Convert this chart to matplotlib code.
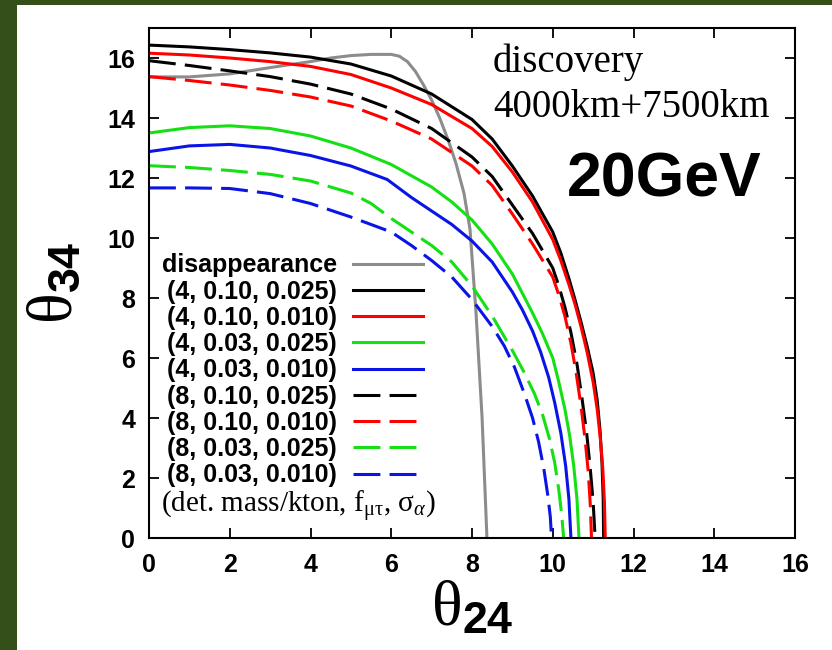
import matplotlib
matplotlib.use("Agg")
import matplotlib.pyplot as plt
from matplotlib.patches import Rectangle

plt.rcParams['mathtext.fontset'] = 'custom'
plt.rcParams['mathtext.rm'] = 'Liberation Serif'
plt.rcParams['mathtext.it'] = 'Liberation Serif:italic'
plt.rcParams['mathtext.bf'] = 'Liberation Sans:bold'

# theta_24 / theta_34 contours, 20 GeV, 4000km+7500km
dis_x = [0, 1, 2, 3, 4, 4.5, 5, 5.5, 6, 6.2, 6.4, 6.6, 6.8, 7.0, 7.2, 7.4, 7.6, 7.8, 7.95, 8.1, 8.25, 8.37]
dis_y = [15.37, 15.37, 15.47, 15.68, 15.88, 16.0, 16.08, 16.12, 16.12, 16.06, 15.88, 15.55, 15.1, 14.6, 14.0, 13.3, 12.5, 11.5, 10.3, 7.5, 4.0, 0]

k4_x = [0, 1, 2, 3, 4, 5, 6, 7, 8, 8.5, 9, 9.5, 10, 10.2, 10.4, 10.55, 10.7, 10.85, 11.0, 11.1, 11.17, 11.22, 11.25, 11.26]
k4_y = [16.43, 16.37, 16.28, 16.17, 16.03, 15.8, 15.4, 14.8, 13.95, 13.3, 12.4, 11.4, 10.2, 9.5, 8.65, 7.95, 7.2, 6.4, 5.5, 4.6, 3.6, 2.5, 1.3, 0]

r4_x = [0, 1, 2, 3, 4, 5, 6, 7, 8, 8.5, 9, 9.5, 10, 10.2, 10.4, 10.55, 10.7, 10.85, 11.0, 11.1, 11.18, 11.24, 11.28, 11.3]
r4_y = [16.16, 16.1, 16.0, 15.88, 15.72, 15.45, 15.0, 14.45, 13.65, 13.05, 12.2, 11.2, 9.95, 9.25, 8.45, 7.8, 7.05, 6.2, 5.2, 4.3, 3.3, 2.3, 1.2, 0]

g4_x = [0, 1, 2, 3, 4, 5, 6, 7, 7.5, 8, 8.5, 9, 9.5, 9.75, 10, 10.15, 10.3, 10.42, 10.52, 10.6, 10.65]
g4_y = [13.5, 13.68, 13.74, 13.65, 13.4, 13.0, 12.45, 11.7, 11.2, 10.6, 9.8, 8.8, 7.5, 6.8, 6.0, 5.2, 4.3, 3.4, 2.4, 1.3, 0]

b4_x = [0, 1, 2, 3, 4, 5, 5.9, 6.5, 7, 7.5, 8, 8.5, 9, 9.25, 9.5, 9.7, 9.9, 10.05, 10.2, 10.32, 10.4, 10.45]
b4_y = [12.88, 13.07, 13.12, 13.0, 12.75, 12.4, 11.95, 11.35, 10.9, 10.45, 9.9, 9.2, 8.2, 7.6, 6.9, 6.2, 5.35, 4.5, 3.5, 2.4, 1.3, 0]

k8_x = [0, 1, 2, 3, 4, 5, 6, 7, 8, 8.5, 9, 9.5, 10, 10.15, 10.3, 10.45, 10.6, 10.72, 10.84, 10.93, 11.0, 11.05]
k8_y = [15.91, 15.75, 15.57, 15.38, 15.13, 14.8, 14.3, 13.65, 12.7, 12.05, 11.1, 10.15, 9.0, 8.4, 7.7, 6.85, 5.8, 4.7, 3.5, 2.3, 1.2, 0]

r8_x = [0, 1, 2, 3, 4, 5, 6, 7, 8, 8.5, 9, 9.5, 10, 10.15, 10.3, 10.45, 10.58, 10.7, 10.8, 10.88, 10.93, 10.96]
r8_y = [15.38, 15.25, 15.1, 14.92, 14.7, 14.4, 13.9, 13.3, 12.4, 11.75, 10.8, 9.8, 8.7, 8.1, 7.4, 6.5, 5.5, 4.4, 3.3, 2.2, 1.1, 0]

g8_x = [0, 1, 2, 3, 4, 5, 5.5, 6, 6.5, 7, 7.5, 8, 8.5, 9, 9.3, 9.55, 9.75, 9.92, 10.05, 10.15, 10.22, 10.27]
g8_y = [12.41, 12.35, 12.25, 12.12, 11.9, 11.5, 11.15, 10.65, 10.2, 9.75, 9.2, 8.4, 7.4, 6.25, 5.5, 4.8, 4.1, 3.3, 2.5, 1.6, 0.8, 0]

b8_x = [0, 1, 2, 3, 4, 5, 5.5, 6, 6.5, 7, 7.5, 8, 8.5, 8.8, 9.05, 9.3, 9.5, 9.65, 9.78, 9.88, 9.94, 9.97]
b8_y = [11.67, 11.67, 11.65, 11.48, 11.15, 10.7, 10.45, 10.2, 9.75, 9.25, 8.7, 7.95, 7.05, 6.4, 5.7, 4.8, 4.0, 3.2, 2.3, 1.4, 0.7, 0]

labels = ['disappearance',
          '(4, 0.10, 0.025)', '(4, 0.10, 0.010)', '(4, 0.03, 0.025)', '(4, 0.03, 0.010)',
          '(8, 0.10, 0.025)', '(8, 0.10, 0.010)', '(8, 0.03, 0.025)', '(8, 0.03, 0.010)']
ticks = [0, 2, 4, 6, 8, 10, 12, 14, 16]

GRAY = '#8c8c8c'
RED = '#ff0000'
GREEN = '#14e014'
BLUE = '#0a14e6'
dash = (0, (8.8, 3.0))
lw = 2.2

fig = plt.figure(figsize=(8.32, 6.5), dpi=100)
fig.patch.set_facecolor('#344f17')
fig.patches.append(Rectangle((17 / 832, 0), 1, 645 / 650, transform=fig.transFigure,
                             facecolor='white', edgecolor='none', zorder=-1))

ax = fig.add_axes([149 / 832, 112 / 650, 646 / 832, 510 / 650])

series = [
    (dis_x, dis_y, GRAY, '-'),
    (k4_x, k4_y, 'black', '-'),
    (r4_x, r4_y, RED, '-'),
    (g4_x, g4_y, GREEN, '-'),
    (b4_x, b4_y, BLUE, '-'),
    (k8_x, k8_y, 'black', dash),
    (r8_x, r8_y, RED, dash),
    (g8_x, g8_y, GREEN, dash),
    (b8_x, b8_y, BLUE, dash),
]
handles = []
for (xs, ys, c, ls), lab in zip(series, labels):
    h, = ax.plot(xs, ys, color=c, linestyle=ls, linewidth=lw, label=lab,
                 solid_joinstyle='round')
    handles.append(h)

ax.set_xlim(0, 16)
ax.set_ylim(0, 17)
ax.set_xticks(ticks)
ax.set_yticks(ticks)
ax.tick_params(axis='x', pad=11)
ax.tick_params(axis='y', pad=10)
ax.tick_params(direction='in', length=7, width=1.3, top=True, right=True)
for t in ax.get_xticklabels() + ax.get_yticklabels():
    t.set_fontfamily('Liberation Sans')
    t.set_fontweight('bold')
    t.set_fontsize(18)
for s in ax.spines.values():
    s.set_linewidth(1.5)

leg = ax.legend(handles, labels, loc='upper right', bbox_to_anchor=(0.424, 0.558),
                frameon=False, markerfirst=False, handlelength=2.8, handletextpad=0.65,
                labelspacing=0.09, borderpad=0, borderaxespad=0,
                prop={'family': 'Liberation Sans', 'weight': 'bold', 'size': 18})
for col in leg._legend_handle_box.get_children():
    col.align = 'right'

ax.text(0.019, 0.062, r'(det. mass/kton, f$_{\mathrm{\mu\tau}}$, $\mathrm{\sigma}_\alpha$)',
        transform=ax.transAxes, family='Liberation Serif', fontsize=21, va='center')

ax.text(0.5325, 0.914, 'discovery', transform=ax.transAxes,
        family='Liberation Serif', fontsize=28, va='baseline')
ax.text(0.5325, 0.8255, '4000km+7500km', transform=ax.transAxes,
        family='Liberation Serif', fontsize=28, va='baseline')
ax.text(0.647, 0.669, '20GeV', transform=ax.transAxes,
        family='Liberation Sans', weight='bold', fontsize=45, va='baseline')

ax.set_xlabel(r'$\mathrm{\theta}_{\mathbf{24}}$', fontsize=46, labelpad=-1)
ax.set_ylabel(r'$\mathrm{\theta}_{\mathbf{34}}$', fontsize=46, labelpad=16)

fig.savefig('out.png', dpi=100, facecolor=fig.get_facecolor())
